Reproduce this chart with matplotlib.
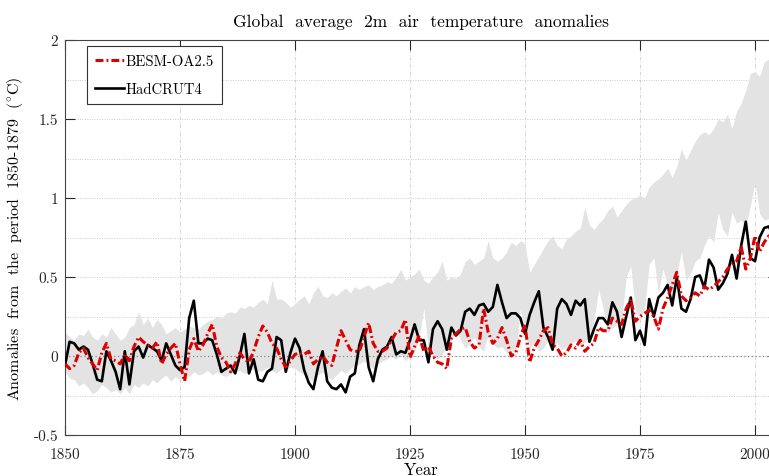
import matplotlib.pyplot as plt
import numpy as np

plt.rcParams['font.family'] = ['cmr10', 'DejaVu Serif']
plt.rcParams['axes.unicode_minus'] = False
plt.rcParams['mathtext.fontset'] = 'cm'

years = np.arange(1850, 2006)

# HadCRUT4 observations, relative to 1850-1879
hadcrut4 = [
    -0.06, 0.09, 0.08, 0.04, 0.06, 0.04, -0.05, -0.15, -0.16, 0.03,
    -0.03, -0.10, -0.21, 0.03, -0.18, 0.03, 0.06, -0.01, 0.07, 0.05,
    0.03, -0.03, 0.08, 0.01, -0.06, -0.09, -0.07, 0.24, 0.35, 0.08,
    0.08, 0.11, 0.10, 0.01, -0.10, -0.08, -0.06, -0.11, 0.00, 0.14,
    -0.11, -0.02, -0.15, -0.16, -0.10, -0.08, 0.12, 0.10, -0.10, 0.02,
    0.11, 0.05, -0.09, -0.17, -0.21, -0.07, 0.03, -0.16, -0.20, -0.21,
    -0.18, -0.23, -0.13, -0.11, 0.07, 0.17, -0.07, -0.16, -0.02, 0.04,
    0.06, 0.12, 0.01, 0.03, 0.02, 0.10, 0.20, 0.10, 0.10, -0.04,
    0.17, 0.22, 0.17, 0.04, 0.18, 0.13, 0.16, 0.28, 0.30, 0.26,
    0.32, 0.33, 0.28, 0.31, 0.45, 0.34, 0.24, 0.27, 0.27, 0.24,
    0.14, 0.26, 0.34, 0.41, 0.18, 0.12, 0.04, 0.30, 0.36, 0.33,
    0.26, 0.35, 0.32, 0.36, 0.09, 0.17, 0.24, 0.24, 0.20, 0.34,
    0.28, 0.12, 0.25, 0.37, 0.10, 0.16, 0.07, 0.36, 0.25, 0.37,
    0.40, 0.45, 0.32, 0.50, 0.30, 0.28, 0.36, 0.50, 0.51, 0.43,
    0.61, 0.56, 0.42, 0.46, 0.52, 0.64, 0.49, 0.70, 0.85, 0.62,
    0.60, 0.75, 0.81, 0.82, 0.76, 0.86,
]

# BESM-OA2.5 ensemble mean
besm = [
    -0.05, -0.08, -0.06, 0.02, 0.05, -0.01, -0.05, -0.09, 0.02, 0.08,
    -0.02, -0.03, -0.05, 0.01, -0.03, 0.06, 0.12, 0.09, 0.07, 0.05,
    0.09, -0.05, 0.01, 0.05, 0.08, -0.05, -0.16, 0.04, 0.11, 0.03,
    0.07, 0.14, 0.20, 0.06, -0.01, -0.04, -0.10, -0.05, 0.02, -0.02,
    -0.04, 0.03, 0.12, 0.19, 0.15, 0.08, 0.05, -0.02, -0.07, -0.03,
    0.01, 0.02, 0.01, 0.03, -0.05, -0.02, 0.00, -0.04, -0.06, 0.05,
    0.16, 0.10, 0.04, 0.03, 0.03, 0.12, 0.21, 0.08, 0.03, 0.03,
    0.05, 0.10, 0.15, 0.16, 0.23, -0.01, 0.06, 0.13, 0.03, 0.06,
    0.00, -0.04, -0.05, -0.08, 0.11, 0.14, 0.17, 0.18, 0.09, 0.05,
    0.07, 0.30, 0.15, 0.08, 0.11, 0.18, 0.10, 0.00, 0.02, 0.12,
    0.20, -0.04, 0.05, 0.10, 0.16, 0.18, 0.07, 0.05, 0.00, 0.02,
    0.07, 0.05, 0.10, 0.03, 0.06, 0.08, 0.18, 0.16, 0.16, 0.24,
    0.22, 0.20, 0.30, 0.36, 0.22, 0.25, 0.27, 0.29, 0.25, 0.17,
    0.30, 0.37, 0.45, 0.53, 0.38, 0.35, 0.37, 0.40, 0.38, 0.44,
    0.42, 0.44, 0.47, 0.50, 0.55, 0.58, 0.60, 0.69, 0.55, 0.62,
    0.76, 0.66, 0.72, 0.76, 0.72, 0.80,
]

# ensemble spread (min / max)
spread_low = [
    -0.10, -0.14, -0.15, -0.19, -0.17, -0.20, -0.24, -0.22, -0.18, -0.20,
    -0.23, -0.21, -0.24, -0.20, -0.24, -0.18, -0.20, -0.17, -0.19, -0.15,
    -0.17, -0.14, -0.12, -0.16, -0.13, -0.15, -0.12, -0.13, -0.10, -0.12,
    -0.11, -0.09, -0.12, -0.10, -0.12, -0.13, -0.11, -0.10, -0.09, -0.11,
    -0.10, -0.08, -0.10, -0.09, -0.07, -0.09, -0.11, -0.08, -0.09, -0.07,
    -0.08, -0.10, -0.12, -0.14, -0.16, -0.12, -0.10, -0.13, -0.15, -0.12,
    -0.09, -0.11, -0.08, -0.06, -0.05, -0.03, -0.06, -0.08, -0.05, -0.03,
    -0.02, 0.00, -0.02, 0.01, -0.03, 0.00, 0.02, 0.12, 0.30, 0.05,
    0.00, -0.02, 0.01, 0.05, 0.10, 0.18, 0.10, 0.05, 0.08, 0.12,
    0.06, 0.03, 0.14, 0.08, 0.05, 0.06, 0.02, 0.04, 0.01, 0.30,
    0.14, 0.05, 0.08, 0.03, 0.05, 0.10, 0.06, 0.08, 0.04, 0.06,
    0.08, 0.10, 0.06, 0.09, 0.12, 0.22, 0.42, 0.30, 0.15, 0.18,
    0.20, 0.22, 0.50, 0.57, 0.28, 0.24, 0.30, 0.58, 0.62, 0.40,
    0.55, 0.45, 0.38, 0.52, 0.66, 0.48, 0.52, 0.60, 0.62, 0.70,
    0.76, 0.72, 0.91, 0.80, 0.76, 0.91, 0.84, 0.86, 0.82, 0.95,
    1.10, 0.90, 0.86, 0.87, 0.90, 0.92,
]
spread_high = [
    0.15, 0.12, 0.10, 0.14, 0.13, 0.17, 0.12, 0.10, 0.14, 0.12,
    0.18, 0.14, 0.10, 0.12, 0.18, 0.20, 0.28, 0.20, 0.24, 0.18,
    0.23, 0.20, 0.14, 0.16, 0.18, 0.15, 0.17, 0.19, 0.18, 0.17,
    0.20, 0.22, 0.23, 0.25, 0.24, 0.27, 0.28, 0.27, 0.31, 0.30,
    0.32, 0.31, 0.34, 0.36, 0.33, 0.48, 0.36, 0.36, 0.34, 0.31,
    0.33, 0.36, 0.38, 0.33, 0.40, 0.44, 0.38, 0.37, 0.40, 0.38,
    0.41, 0.43, 0.40, 0.44, 0.42, 0.44, 0.45, 0.42, 0.44, 0.45,
    0.47, 0.46, 0.50, 0.55, 0.48, 0.50, 0.52, 0.55, 0.48, 0.46,
    0.50, 0.53, 0.60, 0.48, 0.50, 0.49, 0.52, 0.60, 0.62, 0.58,
    0.60, 0.62, 0.73, 0.62, 0.60, 0.62, 0.66, 0.72, 0.70, 0.73,
    0.71, 0.53, 0.58, 0.63, 0.68, 0.73, 0.76, 0.70, 0.68, 0.74,
    0.76, 0.79, 0.81, 0.94, 0.83, 0.80, 0.84, 0.87, 0.92, 0.95,
    0.88, 0.92, 0.96, 0.99, 1.00, 1.02, 1.00, 1.07, 1.10, 1.12,
    1.15, 1.19, 1.13, 1.20, 1.31, 1.24, 1.30, 1.36, 1.40, 1.42,
    1.40, 1.44, 1.50, 1.48, 1.53, 1.44, 1.55, 1.60, 1.68, 1.79,
    1.80, 1.77, 1.86, 1.88, 1.90, 1.92,
]

xticks = [1850, 1875, 1900, 1925, 1950, 1975, 2000]
yticks = [-0.5, 0, 0.5, 1, 1.5, 2]
ytick_labels = ['-0.5', '0', '0.5', '1', '1.5', '2']

fig = plt.figure(figsize=(7.69, 4.77), dpi=100)
ax = fig.add_axes([65 / 769, 41 / 477, 713 / 769, 395 / 477])

ax.fill_between(years, spread_low, spread_high, color='#e3e3e3', lw=0, zorder=1)
ax.axhline(0, color='#888888', ls=(0, (1, 2)), lw=0.9, zorder=2)
ax.plot(years, besm, color='#dd0000', ls=(0, (2.6, 1.0, 0.6, 1.0)), lw=2.2,
        label='BESM-OA2.5', zorder=4)
ax.plot(years, hadcrut4, color='black', lw=1.9, label='HadCRUT4', zorder=3)

ax.set_xlim(1850, 2005)
ax.set_ylim(-0.5, 2)
ax.set_xticks(xticks)
ax.set_xticklabels([str(t) for t in xticks])
ax.set_yticks(yticks)
ax.set_yticklabels(ytick_labels)
ax.set_yticks(np.arange(-0.25, 2, 0.5), minor=True)
ax.tick_params(which='major', direction='in', length=7, width=0.8,
               top=True, right=True, labelsize=11, colors='#262626')
ax.tick_params(axis='x', pad=9)
ax.tick_params(axis='y', pad=5)
ax.tick_params(which='minor', length=0)

ax.grid(axis='x', which='major', color='#cccccc', ls=(0, (4, 2, 1, 2)), lw=0.6, zorder=0)
ax.grid(axis='y', which='both', color='#cccccc', ls=(0, (1, 1.5)), lw=0.7, zorder=0)
ax.set_axisbelow(True)
for sp in ax.spines.values():
    sp.set_color('#444444')
    sp.set_linewidth(0.8)

ax.set_title('Global  average  2m  air  temperature  anomalies', fontsize=12.5, pad=10)
ax.set_xlabel('Year', fontsize=12, labelpad=0)
ax.set_ylabel(r'Anomalies  from  the  period  1850-1879  (${}^{\circ}$C)',
              fontsize=11.5, labelpad=6)

leg = ax.legend(loc='upper left', bbox_to_anchor=(0.031, 0.985), borderaxespad=0,
                fancybox=False, edgecolor='#333333', framealpha=1, fontsize=10.5,
                handlelength=2.0, handletextpad=0.1, borderpad=0.55, labelspacing=1.0)
leg.get_frame().set_linewidth(0.8)

fig.savefig('out.png', dpi=100)
